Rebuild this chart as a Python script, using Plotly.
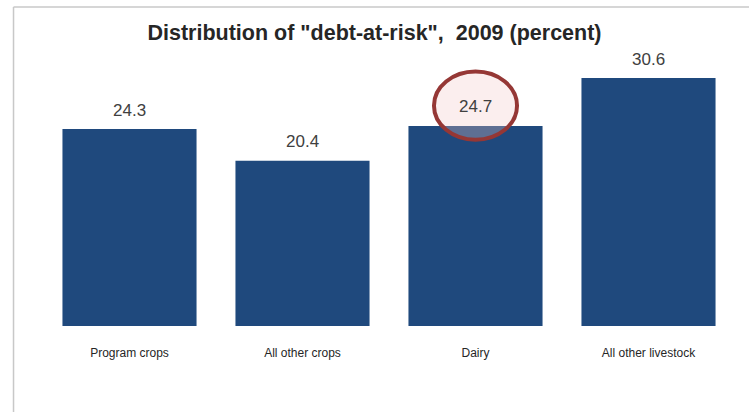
import plotly.graph_objects as go

categories = ["Program crops", "All other crops", "Dairy", "All other livestock"]
values = [24.3, 20.4, 24.7, 30.6]
value_labels = ["24.3", "20.4", "24.7", "30.6"]
title_text = 'Distribution of "debt-at-risk",  2009 (percent)'

FONT = "Liberation Sans, Arial, sans-serif"

fig = go.Figure(go.Bar(
    x=categories, y=values,
    marker=dict(color="#1f497d", line=dict(width=0)),
))

for c, v, t in zip(categories, values, value_labels):
    fig.add_annotation(x=c, y=v, text=t, showarrow=False, yanchor="middle", yshift=19,
                       font=dict(family=FONT, size=17, color="#404040"))

fig.update_layout(
    width=749, height=412,
    margin=dict(l=43, r=14, t=40, b=86),
    paper_bgcolor="white", plot_bgcolor="white",
    bargap=0.225,
    showlegend=False,
    title=dict(text="<b>" + title_text + "</b>", x=0.5, xanchor="center",
               y=1 - 32 / 412, yanchor="middle",
               font=dict(family=FONT, size=21.5, color="#262626")),
    xaxis=dict(showline=False, showgrid=False, ticks="", zeroline=False,
               ticklabelstandoff=18,
               tickfont=dict(family=FONT, size=12, color="#262626")),
    yaxis=dict(range=[0, 35.3], visible=False, showgrid=False, zeroline=False),
    font=dict(family=FONT),
)

# Ellipse highlight around Dairy value
di = categories.index("Dairy")
fig.add_shape(type="circle", xref="x", yref="y",
              x0=di - 0.24, x1=di + 0.24, y0=values[di] - 1.7, y1=values[di] + 6.7,
              line=dict(color="#953735", width=4),
              fillcolor="rgba(242,200,200,0.3)", layer="above")

# Frame lines (top and left)
fig.add_shape(type="line", xref="paper", yref="paper", x0=-0.0426, x1=1.03, y0=1.1154, y1=1.1154,
              line=dict(color="#c8c8c8", width=1.5))
fig.add_shape(type="line", xref="paper", yref="paper", x0=-0.0426, x1=-0.0426, y0=1.1154, y1=-0.31,
              line=dict(color="#c8c8c8", width=1.5))

fig.write_html("out.html")
